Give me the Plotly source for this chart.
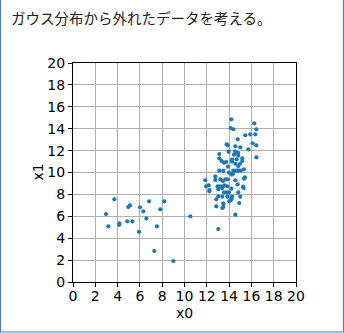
import plotly.graph_objects as go

# Gaussian cluster
cluster_x0 = [14.2, 14.14, 14.38, 16.26, 16.44, 15.9, 16.35, 15.46, 14.77, 16.11, 16.44,
              13.78, 13.87, 14.56, 15.0, 15.72, 13.96, 14.53, 14.68, 14.82, 13.12, 14.44,
              14.82, 13.12, 16.44, 14.26, 14.68, 15.18, 13.33, 13.54, 13.75, 14.26, 15.18,
              14.56, 14.98, 13.9, 14.82, 14.38, 14.6, 14.75, 14.9, 15.05, 15.33, 13.12,
              13.48, 13.99, 14.26, 14.35, 15.43, 15.34, 12.76, 12.76, 13.21, 13.45, 13.66,
              13.87, 11.87, 14.56, 12.17, 11.93, 12.97, 13.21, 13.45, 13.6, 13.84, 14.77,
              15.25, 15.31, 12.23, 12.23, 13.03, 13.39, 14.2, 13.54, 13.78, 13.99, 14.82,
              13.39, 13.03, 12.85, 13.84, 14.26, 15.0, 14.23, 14.14, 14.02, 13.48, 14.91,
              12.85, 13.39, 13.48, 14.56, 13.03]
cluster_x1 = [14.86, 14.06, 13.95, 14.49, 13.94, 13.49, 13.49, 13.4, 13.03, 12.67, 12.48,
              12.57, 12.48, 12.39, 12.3, 12.12, 11.9, 11.9, 11.81, 11.78, 11.69, 11.63,
              11.53, 11.29, 11.39, 11.17, 11.2, 11.29, 11.05, 10.9, 10.96, 11.0, 11.05,
              10.8, 10.8, 10.53, 10.59, 10.17, 10.17, 10.17, 10.17, 10.17, 10.29, 10.17,
              10.14, 9.98, 9.8, 9.92, 9.56, 9.44, 9.65, 9.32, 9.38, 9.22, 9.38,
              9.38, 9.29, 9.29, 8.83, 8.74, 8.74, 8.74, 8.74, 8.83, 8.74, 8.92,
              8.71, 8.58, 8.4, 8.28, 8.47, 8.58, 8.52, 8.19, 8.19, 8.19, 8.19,
              7.79, 7.82, 7.55, 7.79, 7.79, 7.79, 7.58, 7.46, 7.37, 7.19, 7.21,
              6.91, 6.76, 6.88, 6.15, 4.84]

# Outliers
outlier_x0 = [2.96, 3.17, 3.71, 4.16, 4.15, 4.96, 5.11, 4.87, 5.32, 6.01, 5.92, 6.31,
              6.58, 6.82, 7.53, 7.83, 8.19, 7.29, 9.0, 10.52]
outlier_x1 = [6.2, 5.08, 7.55, 5.35, 5.22, 6.85, 7.0, 5.54, 5.54, 6.82, 4.57, 6.45,
              5.81, 7.37, 5.08, 6.64, 7.37, 2.83, 1.92, 6.0]

x0 = cluster_x0 + outlier_x0
x1 = cluster_x1 + outlier_x1

tick_vals = list(range(0, 21, 2))
title_text = "ガウス分布から外れたデータを考える。"
x_title = "x0"
y_title = "x1"

W, H = 344, 333
L, R, T, B = 73, 48, 63, 51
pw, ph = W - L - R, H - T - B


def px_to_paper_x(px):
    return (px - L) / pw


def px_to_paper_y(py):
    return 1 - (py - T) / ph


fig = go.Figure()
fig.add_trace(go.Scatter(
    x=x0, y=x1, mode="markers",
    marker=dict(color="#1f77b4", size=4.2, line=dict(width=0)),
    showlegend=False,
))

axis_common = dict(
    range=[0, 20], tickvals=tick_vals, ticks="outside", ticklen=4, tickwidth=1,
    tickcolor="black", showline=True, linecolor="black", linewidth=1, mirror=True,
    showgrid=True, gridcolor="#b0b0b0", gridwidth=1, zeroline=False,
    tickfont=dict(family="DejaVu Sans", size=14, color="black"),
    fixedrange=True,
)
fig.update_xaxes(**axis_common, ticklabelstandoff=-3)
fig.update_yaxes(**axis_common)

label_font = dict(family="DejaVu Sans", size=14, color="black")
fig.add_annotation(text=x_title, xref="paper", yref="paper", x=0.5,
                   y=px_to_paper_y(313), xanchor="center", yanchor="middle",
                   showarrow=False, font=label_font)
fig.add_annotation(text=y_title, xref="paper", yref="paper", x=px_to_paper_x(37),
                   y=0.5, xanchor="center", yanchor="middle", textangle=-90,
                   showarrow=False, font=label_font)

# Border around the figure (left, bottom, right)
xl, xr = px_to_paper_x(0.5), px_to_paper_x(343.5)
yt, yb = px_to_paper_y(0), px_to_paper_y(332)
fig.add_shape(type="path", xref="paper", yref="paper",
              path=f"M {xl},{yt} L {xl},{yb} L {xr},{yb} L {xr},{yt}",
              line=dict(color="#4a7fc9", width=1.2), layer="above")

fig.update_layout(
    width=W, height=H,
    margin=dict(l=L, r=R, t=T, b=B),
    paper_bgcolor="white", plot_bgcolor="white",
    title=dict(text=title_text, xref="container", yref="container",
               x=11 / W, y=1 - 19 / H, xanchor="left", yanchor="middle",
               font=dict(family="Noto Sans CJK JP", size=14.5, color="#222")),
)

fig.write_html("out.html", config={"displayModeBar": False})
